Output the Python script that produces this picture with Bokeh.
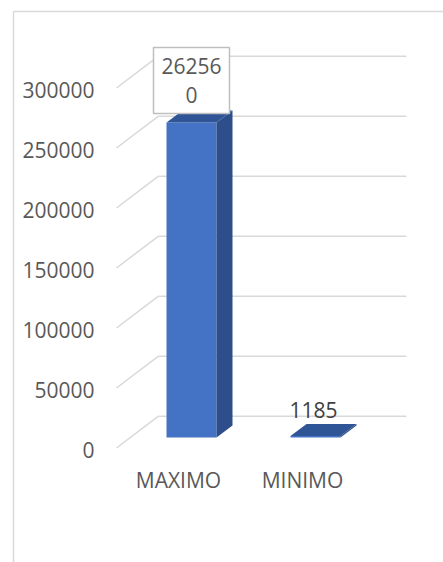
from bokeh.plotting import figure
from bokeh.models import Range1d
from bokeh.core.properties import value
from bokeh.embed import file_html
from bokeh.resources import INLINE

# ---- data ----
categories = ["MAXIMO", "MINIMO"]
values = [262560, 1185]
data_labels = ["26256\n0", "1185"]
label_boxed = [True, False]
y_ticks = [0, 50000, 100000, 150000, 200000, 250000, 300000]
y_tick_labels = ["0", "50000", "100000", "150000", "200000", "250000", "300000"]

# ---- layout constants (pixels) ----
W, H = 443, 562
UX = 124.0            # px per category step
UY = 60.0 / 50000.0   # px per value unit
X0 = 191.0            # pixel x of first category centre
Y0 = 437.0            # pixel y of value 0 on the bar front plane


def dx(px):
    return px / UX


def dy(px):
    return px / UY


FONT = value("Open Sans")
TXT = "#595959"
GRID = "#D9D9D9"

p = figure(width=W, height=H, output_backend="svg", toolbar_location=None,
           x_range=Range1d(-X0 / UX, (W - X0) / UX),
           y_range=Range1d(-(H - Y0) / UY, Y0 / UY),
           x_axis_type=None, y_axis_type=None, min_border=0)
p.grid.visible = False
p.outline_line_color = None
p.background_fill_color = "white"
p.border_fill_color = "white"

# chart area border
p.segment(x0=[dx(13 - X0)], y0=[dy(Y0 - 11)], x1=[dx(13 - X0)], y1=[-dy(H - Y0)],
          line_color=GRID, line_width=1.5)
p.segment(x0=[dx(13 - X0)], y0=[dy(Y0 - 11)], x1=[dx(W - X0)], y1=[dy(Y0 - 11)],
          line_color=GRID, line_width=1.5)

# 3D wall / floor gridlines
BACK = dy(21.3)
FRONT = dy(10.5)
gx_back0, gx_back1, gx_front = dx(158 - X0), dx(406 - X0), dx(116 - X0)
p.segment(x0=[gx_back0] * len(y_ticks), x1=[gx_back1] * len(y_ticks),
          y0=[t + BACK for t in y_ticks], y1=[t + BACK for t in y_ticks],
          line_color=GRID, line_width=1.5)
p.segment(x0=[gx_front] * len(y_ticks), x1=[gx_back0] * len(y_ticks),
          y0=[t - FRONT for t in y_ticks], y1=[t + BACK for t in y_ticks],
          line_color=GRID, line_width=1.5)

# tick labels
p.text(x=[dx(94 - X0)] * len(y_ticks), y=[t - dy(12) for t in y_ticks], text=y_tick_labels,
       text_font=FONT, text_font_size="21px", text_color=TXT,
       text_align="right", text_baseline="middle")

# bars (3D columns)
hw = dx(25)
ddx, ddy = dx(16), dy(12)
xs_idx = list(range(len(categories)))
p.quad(left=[i - hw for i in xs_idx], right=[i + hw for i in xs_idx],
       bottom=[0] * len(values), top=values, fill_color="#4472C4", line_color=None)
side_xs = [[i + hw, i + hw + ddx, i + hw + ddx, i + hw] for i in xs_idx]
side_ys = [[0, ddy, v + ddy, v] for v in values]
p.patches(side_xs, side_ys, fill_color="#2D4E8A", line_color=None)
top_xs = [[i - hw, i - hw + ddx, i + hw + ddx, i + hw] for i in xs_idx]
top_ys = [[v, v + ddy, v + ddy, v] for v in values]
p.patches(top_xs, top_ys, fill_color="#2F5597", line_color=None)

# data labels
LINE = dy(29)
for i, v, lab, boxed in zip(xs_idx, values, data_labels, label_boxed):
    if boxed:
        cy = v + dy(42)
        p.rect(x=[i], y=[cy], width=[dx(76)], height=[dy(66)],
               fill_color="white", line_color="#BFBFBF", line_width=1.5)
        lines = lab.split("\n")
        n = len(lines)
        ys = [cy + LINE * ((n - 1) / 2 - k) for k in range(n)]
        p.text(x=[i] * n, y=ys, text=lines, text_font=FONT, text_font_size="21px",
               text_color=TXT, text_align="center", text_baseline="middle")
    else:
        p.text(x=[i - dx(2)], y=[v + dy(26)], text=[lab], text_font=FONT,
               text_font_size="21px", text_color="#404040", text_align="center",
               text_baseline="middle")

# category labels
p.text(x=[i - dx(13) for i in xs_idx], y=[-dy(42)] * len(categories), text=categories,
       text_font=FONT, text_font_size="21px", text_color=TXT,
       text_align="center", text_baseline="middle")

open("out.html", "w").write(file_html(p, INLINE))
